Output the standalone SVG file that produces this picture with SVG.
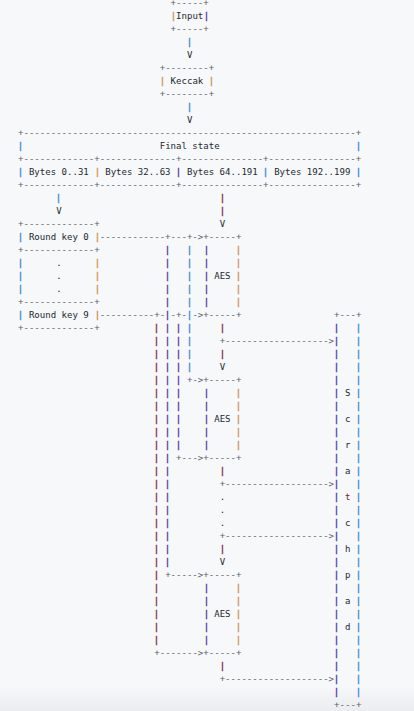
<svg xmlns="http://www.w3.org/2000/svg" width="414" height="711" viewBox="0 0 414 711">
<defs>
<linearGradient id="bot" x1="0" y1="0" x2="0" y2="1">
<stop offset="0" stop-color="#f6f8fa"/>
<stop offset="1" stop-color="#eaecef"/>
</linearGradient>
</defs>
<style>
text{font-family:"DejaVu Sans Mono","Liberation Mono",monospace;font-size:9.05px;white-space:pre}
.g{fill:#5c6168}
.k{fill:#24292f}
.bl{fill:#3686d6;stroke:#3686d6;stroke-width:0.35}
.or{fill:#cf9150;stroke:#cf9150;stroke-width:0.35}
.pu{fill:#5232a2;stroke:#5232a2;stroke-width:0.35}
.rd{fill:#84293e;stroke:#84293e;stroke-width:0.35}
.rt{fill:#7a2236}
</style>
<rect width="414" height="711" fill="#f6f8fa"/>
<rect y="686" width="414" height="25" fill="url(#bot)"/>

<g id="input">
<text class="g" x="170.6" y="6.4">+-----+</text>
<text class="or" x="170.78" y="19.2">|</text>
<text class="k" x="176.05" y="19.2">Input</text>
<text class="pu" x="203.78" y="19.2">|</text>
<text class="g" x="170.6" y="32.2">+-----+</text>
</g>

<g id="keccak">
<text class="g" x="159.7" y="71.2">+--------+</text>
<text class="or" x="159.78" y="84.2">|</text>
<text class="k" x="170.6" y="84.2">Keccak</text>
<text class="or" x="208.78" y="84.2">|</text>
<text class="g" x="159.7" y="97.2">+--------+</text>
</g>

<g id="final-state">
<text class="g" x="18" y="136.2">+-------------------------------------------------------------+</text>
<text class="bl" x="17.78" y="149.2">|</text>
<text class="k" x="159.7" y="149.2">Final state</text>
<text class="bl" x="355.78" y="149.2">|</text>
<text class="g" x="18" y="162.2">+-------------+--------------+---------------+----------------+</text>
<text class="bl" x="17.78" y="175.2">|</text>
<text class="k" x="28.9" y="175.2">Bytes 0..31</text>
<text class="or" x="94.78" y="175.2">|</text>
<text class="k" x="105.2" y="175.2">Bytes 32..63</text>
<text class="pu" x="175.78" y="175.2">|</text>
<text class="k" x="186.95" y="175.2">Bytes 64..191</text>
<text class="bl" x="262.78" y="175.2">|</text>
<text class="k" x="274.15" y="175.2">Bytes 192..199</text>
<text class="bl" x="355.78" y="175.2">|</text>
<text class="g" x="18" y="188.2">+-------------+--------------+---------------+----------------+</text>
</g>

<g id="round-keys">
<text class="g" x="18" y="227.2">+-------------+</text>
<text class="bl" x="17.78" y="240.2">|</text>
<text class="k" x="28.9" y="240.2">Round key 0</text>
<text class="or" x="94.78" y="240.2">|</text>
<text class="g" x="18" y="253.2">+-------------+</text>
<text class="bl" x="17.78 17.78 17.78" y="266.2 279.2 292.2">|||</text>
<text class="k" x="56.15 56.15 56.15" y="266.2 279.2 292.2">...</text>
<text class="or" x="94.78 94.78 94.78" y="266.2 279.2 292.2">|||</text>
<text class="g" x="18" y="305.2">+-------------+</text>
<text class="bl" x="17.78" y="318.2">|</text>
<text class="k" x="28.9" y="318.2">Round key 9</text>
<text class="or" x="94.78" y="318.2">|</text>
<text class="g" x="18" y="331.2">+-------------+</text>
</g>

<g id="aes1">
<text class="g" x="203.3" y="240.2">+-----+</text>
<text class="pu" x="203.78 203.78 203.78 203.78 203.78" y="253.2 266.2 279.2 292.2 305.2">|||||</text>
<text class="k" x="214.2" y="279.2">AES</text>
<text class="or" x="235.78 235.78 235.78 235.78 235.78" y="253.2 266.2 279.2 292.2 305.2">|||||</text>
<text class="g" x="203.3" y="318.2">+-----+</text>
</g>

<g id="aes2">
<text class="g" x="203.3" y="383.2">+-----+</text>
<text class="pu" x="203.78 203.78 203.78 203.78 203.78" y="396.2 409.2 422.2 435.2 448.2">|||||</text>
<text class="k" x="214.2" y="422.2">AES</text>
<text class="or" x="235.78 235.78 235.78 235.78 235.78" y="396.2 409.2 422.2 435.2 448.2">|||||</text>
<text class="g" x="203.3" y="461.2">+-----+</text>
</g>

<g id="aes3">
<text class="g" x="203.3" y="578.2">+-----+</text>
<text class="pu" x="203.78 203.78 203.78 203.78 203.78" y="591.2 604.2 617.2 630.2 643.2">|||||</text>
<text class="k" x="214.2" y="617.2">AES</text>
<text class="or" x="235.78 235.78 235.78 235.78 235.78" y="591.2 604.2 617.2 630.2 643.2">|||||</text>
<text class="g" x="203.3" y="656.2">+-----+</text>
</g>

<g id="scratchpad">
<text class="g" x="334.1" y="318.2">+---+</text>
<text class="pu" x="333.78 333.78 333.78 333.78 333.78 333.78 333.78 333.78 333.78 333.78 333.78 333.78 333.78 333.78 333.78 333.78 333.78 333.78 333.78 333.78 333.78 333.78 333.78 333.78 333.78 333.78 333.78 333.78 333.78" y="331.2 344.2 357.2 370.2 383.2 396.2 409.2 422.2 435.2 448.2 461.2 474.2 487.2 500.2 513.2 526.2 539.2 552.2 565.2 578.2 591.2 604.2 617.2 630.2 643.2 656.2 669.2 682.2 695.2">|||||||||||||||||||||||||||||</text>
<text class="bl" x="355.78 355.78 355.78 355.78 355.78 355.78 355.78 355.78 355.78 355.78 355.78 355.78 355.78 355.78 355.78 355.78 355.78 355.78 355.78 355.78 355.78 355.78 355.78 355.78 355.78 355.78 355.78 355.78 355.78" y="331.2 344.2 357.2 370.2 383.2 396.2 409.2 422.2 435.2 448.2 461.2 474.2 487.2 500.2 513.2 526.2 539.2 552.2 565.2 578.2 591.2 604.2 617.2 630.2 643.2 656.2 669.2 682.2 695.2">|||||||||||||||||||||||||||||</text>
<text class="k" x="345 345 345 345" y="396.2 422.2 448.2 474.2">Scra</text>
<text class="rt" x="345" y="500.2">t</text>
<text class="k" x="345 345 345 345 345" y="526.2 552.2 578.2 604.2 630.2">chpad</text>
<text class="g" x="334.1" y="708.2">+---+</text>
</g>

<g id="connectors">
<text class="bl" x="186.78" y="45.2">|</text>
<text class="k" x="186.95" y="58.2">V</text>
<text class="bl" x="186.78" y="110.2">|</text>
<text class="k" x="186.95" y="123.2">V</text>
<text class="bl" x="55.78" y="201.2">|</text>
<text class="k" x="56.15" y="214.2">V</text>
<text class="rd" x="219.78 219.78" y="201.2 214.2">||</text>
<text class="k" x="219.65" y="227.2">V</text>
<text class="g" x="99.75" y="240.2">------------+---+-&gt;</text>
<text class="pu" x="164.78 164.78 164.78 164.78 164.78 164.78 164.78 164.78 164.78 164.78 164.78 164.78 164.78 164.78 164.78 164.78 164.78 164.78 164.78 164.78 164.78 164.78 164.78 164.78 164.78" y="253.2 266.2 279.2 292.2 305.2 318.2 331.2 344.2 357.2 370.2 383.2 396.2 409.2 422.2 435.2 448.2 461.2 474.2 487.2 500.2 513.2 526.2 539.2 552.2 565.2">|||||||||||||||||||||||||</text>
<text class="bl" x="186.78 186.78 186.78 186.78 186.78 186.78 186.78 186.78 186.78 186.78" y="253.2 266.2 279.2 292.2 305.2 318.2 331.2 344.2 357.2 370.2">||||||||||</text>
<text class="g" x="99.75" y="318.2">----------+-</text>
<text class="g" x="170.6" y="318.2">-+-</text>
<text class="g" x="192.4" y="318.2">-&gt;</text>
<text class="rd" x="153.78 153.78 153.78 153.78 153.78 153.78 153.78 153.78 153.78 153.78 153.78 153.78 153.78 153.78 153.78 153.78 153.78 153.78 153.78 153.78 153.78 153.78 153.78 153.78 153.78" y="331.2 344.2 357.2 370.2 383.2 396.2 409.2 422.2 435.2 448.2 461.2 474.2 487.2 500.2 513.2 526.2 539.2 552.2 565.2 578.2 591.2 604.2 617.2 630.2 643.2">|||||||||||||||||||||||||</text>
<text class="pu" x="175.78 175.78 175.78 175.78 175.78 175.78 175.78 175.78 175.78 175.78" y="331.2 344.2 357.2 370.2 383.2 396.2 409.2 422.2 435.2 448.2">||||||||||</text>
<text class="rd" x="219.78" y="331.2">|</text>
<text class="g" x="219.65" y="344.2">+-------------------&gt;</text>
<text class="rd" x="219.78" y="357.2">|</text>
<text class="k" x="219.65" y="370.2">V</text>
<text class="g" x="186.95" y="383.2">+-&gt;</text>
<text class="g" x="176.05" y="461.2">+---&gt;</text>
<text class="rd" x="219.78" y="474.2">|</text>
<text class="g" x="219.65" y="487.2">+-------------------&gt;</text>
<text class="k" x="219.65 219.65 219.65" y="500.2 513.2 526.2">...</text>
<text class="g" x="219.65" y="539.2">+-------------------&gt;</text>
<text class="rd" x="219.78" y="552.2">|</text>
<text class="k" x="219.65" y="565.2">V</text>
<text class="g" x="165.15" y="578.2">+-----&gt;</text>
<text class="g" x="154.25" y="656.2">+-------&gt;</text>
<text class="rd" x="219.78" y="669.2">|</text>
<text class="g" x="219.65" y="682.2">+-------------------&gt;</text>
</g>
</svg>
